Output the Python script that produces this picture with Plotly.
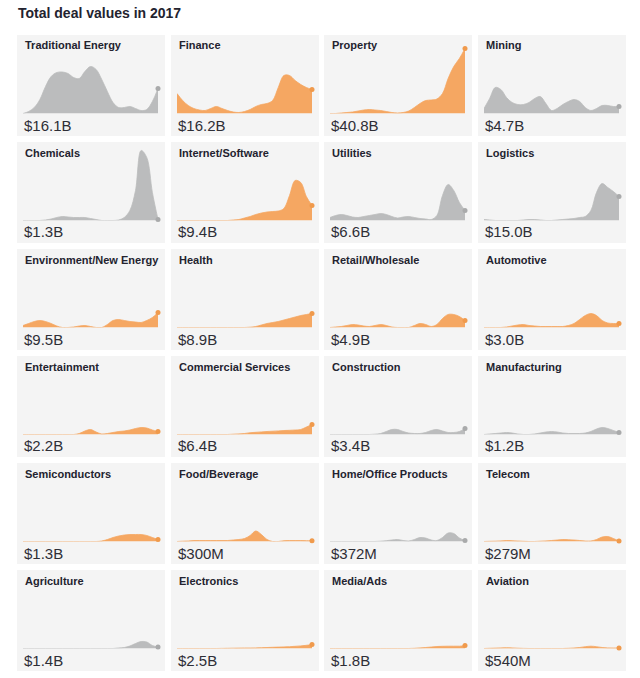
import plotly.graph_objects as go

# ---------------- data ----------------
title_text = "Total deal values in 2017"

categories = [
    "Traditional Energy", "Finance", "Property", "Mining",
    "Chemicals", "Internet/Software", "Utilities", "Logistics",
    "Environment/New Energy", "Health", "Retail/Wholesale", "Automotive",
    "Entertainment", "Commercial Services", "Construction", "Manufacturing",
    "Semiconductors", "Food/Beverage", "Home/Office Products", "Telecom",
    "Agriculture", "Electronics", "Media/Ads", "Aviation",
]

totals = [
    "$16.1B", "$16.2B", "$40.8B", "$4.7B",
    "$1.3B", "$9.4B", "$6.6B", "$15.0B",
    "$9.5B", "$8.9B", "$4.9B", "$3.0B",
    "$2.2B", "$6.4B", "$3.4B", "$1.2B",
    "$1.3B", "$300M", "$372M", "$279M",
    "$1.4B", "$2.5B", "$1.8B", "$540M",
]

highlight = [
    False, True, True, False,
    False, True, False, False,
    True, True, True, True,
    True, True, False, False,
    True, True, False, True,
    False, True, True, True,
]

periods = list(range(25))

traditional_energy = [0, 2, 6, 14, 27, 37, 41, 41.5, 40, 36, 35, 42, 47, 44, 34, 22, 11, 6, 6, 7, 5, 3, 4, 12, 25]
finance = [20, 13, 8, 5, 3.5, 3, 5, 7, 5, 3, 1.5, 1, 2, 4, 7, 9, 10, 13, 26, 38, 38, 33, 29, 26, 24]
property_ = [0, 0, 0.5, 1, 1.5, 2.5, 3.5, 4, 3.5, 3, 2, 1, 0.5, 1, 2.5, 6, 10, 13, 13.5, 14.5, 20, 35, 47, 55, 65]
mining = [5, 15, 26, 24, 16, 11, 9, 9, 11, 15, 17, 10, 3, 5, 9, 12, 14, 12, 6, 3, 5, 8, 8, 7, 7]
chemicals = [0, 0, 0, 0, 0.5, 1.5, 3, 4, 3.5, 3, 3, 3, 2, 1, 0, 0, 0, 0.5, 3, 10, 30, 70, 63, 28, 1]
internet_software = [0, 0, 0, 0, 0, 0, 0, 0, 0, 0, 0.5, 1, 2.5, 4, 6, 7.5, 8.5, 9, 9.5, 12, 25, 40, 38, 24, 15]
utilities = [3, 5, 6, 5, 3.5, 3, 4, 5, 6, 7, 6, 4, 2.5, 3.5, 4, 3, 2, 1.5, 1, 5, 25, 36, 30, 18, 10]
logistics = [1, 0.5, 0, 0, 0, 0, 0, 0.5, 1, 1, 0.5, 0, 0, 0.5, 1, 1.5, 2, 3, 4, 10, 28, 37, 33, 29, 24]
environment_new_energy = [2, 4, 6, 7, 6, 4, 1.5, 0, 0, 0.5, 1.5, 2, 1, 0, 0, 3, 7, 8, 7, 6, 5.5, 5, 7, 10, 15]
health = [0, 0, 0, 0, 0, 0, 0, 0, 0, 0, 0, 0, 0, 0.3, 1, 2.5, 4, 5, 6, 7.5, 9, 10.5, 12, 13, 14]
retail_wholesale = [0, 0.5, 1, 2, 3, 2.5, 1.5, 1, 2, 3, 2, 0.5, 0, 0, 0, 2, 4, 3, 1, 3, 9, 13, 13, 11, 7]
automotive = [0, 0, 0, 0, 0.5, 1.5, 2.5, 3, 2, 1.5, 1, 1, 1, 1, 1, 2, 4, 8, 12, 14, 12, 7, 4.5, 4, 4]
entertainment = [0, 0, 0, 0, 0, 0, 0, 0, 0, 0, 1, 3.5, 5, 2.5, 0.5, 1, 2, 3, 3.5, 4.5, 6, 7, 6.5, 4.5, 3]
commercial_services = [0, 0, 0, 0, 0, 0, 0, 0, 0, 0, 0.3, 0.6, 1, 1.8, 2.2, 2.6, 3, 3.3, 3.6, 4, 4.2, 4.5, 5, 7.5, 10]
construction = [0, 0, 0, 0, 0, 0, 0, 0, 0.3, 1, 3, 5, 5, 3, 1.5, 1, 1, 2, 4, 5, 3.5, 2, 2, 3, 6]
manufacturing = [0, 0.5, 1, 1.5, 2, 1.5, 0.5, 0, 0, 0.5, 1.5, 2.5, 3, 2.5, 1.5, 1, 1, 1, 1.5, 3, 5.5, 7, 6, 4, 2]
semiconductors = [0, 0, 0, 0, 0, 0, 0, 0, 0, 0, 0, 0, 0, 0, 0.5, 2, 4, 5.5, 6.5, 7, 7, 7, 6, 4, 2]
food_beverage = [0, 0.3, 0.5, 1, 1, 1, 1, 1, 1, 1, 1.5, 2, 3, 6, 10.5, 7, 2, 0, 0, 0.8, 1, 1, 1, 0.8, 0.8]
home_office_products = [0, 0, 0, 0, 0, 0, 0, 0, 0, 0.3, 0.8, 1.5, 2, 1, 0.5, 2, 4, 3.5, 1.5, 1, 4, 8.5, 8, 3.5, 1]
telecom = [0, 0.2, 0.3, 0.6, 1, 0.8, 0.5, 0.2, 0, 0, 0.3, 0.6, 1, 1.5, 2, 1.8, 1.5, 1, 0.5, 0.5, 2, 4.5, 5, 3, 0.5]
agriculture = [0, 0, 0, 0, 0, 0, 0, 0, 0, 0, 0, 0, 0, 0, 0, 0, 0, 0.5, 1, 2.5, 5, 7, 6.5, 3, 1.5]
electronics = [0, 0, 0, 0, 0, 0, 0, 0, 0.1, 0.2, 0.3, 0.4, 0.5, 0.5, 0.6, 0.8, 1, 1.2, 1.4, 1.6, 1.8, 2.2, 2.6, 3.2, 4]
media_ads = [0, 0, 0, 0, 0, 0, 0, 0, 0, 0, 0, 0, 0, 0, 0, 0.2, 0.6, 1, 1.5, 2, 2.2, 2.3, 2.3, 2.3, 3]
aviation = [0, 0.2, 0.4, 0.6, 0.8, 0.6, 0.3, 0.1, 0, 0, 0, 0, 0, 0, 0, 0.2, 0.5, 1, 1.8, 2.3, 1.8, 1, 0.6, 0.5, 0.6]

series = [
    traditional_energy, finance, property_, mining,
    chemicals, internet_software, utilities, logistics,
    environment_new_energy, health, retail_wholesale, automotive,
    entertainment, commercial_services, construction, manufacturing,
    semiconductors, food_beverage, home_office_products, telecom,
    agriculture, electronics, media_ads, aviation,
]

# ---------------- style / layout ----------------
W, H = 640, 678
ORANGE = "#f5a762"
ORANGE_DOT = "#f09a4c"
GRAY = "#bbbcbd"
GRAY_DOT = "#a9aaab"
PANEL_BG = "#f4f4f4"
TEXT_DARK = "#23232f"
FONT = "Liberation Sans, Arial, sans-serif"

col_left = [17, 171, 324, 478]
row_top = [35, 142, 249, 356, 463, 570]
panel_w, panel_h = 148, 101
plot_l, plot_r = 6, 141
plot_h = 78.5


def px(v):
    return v / W


def py(v):
    return 1 - v / H


fig = go.Figure()
shapes = []
annotations = []
layout_axes = {}

for k, (name, total, hl, vals) in enumerate(zip(categories, totals, highlight, series)):
    r, c = divmod(k, 4)
    left, top = col_left[c], row_top[r]
    idx = k + 1
    xa = "x" if idx == 1 else f"x{idx}"
    ya = "y" if idx == 1 else f"y{idx}"
    xkey = "xaxis" if idx == 1 else f"xaxis{idx}"
    ykey = "yaxis" if idx == 1 else f"yaxis{idx}"

    layout_axes[xkey] = dict(
        domain=[px(left + plot_l), px(left + plot_r)],
        range=[0, 24], visible=False, fixedrange=True, anchor=ya,
    )
    layout_axes[ykey] = dict(
        domain=[py(top + plot_h), py(top)],
        range=[0, plot_h], visible=False, fixedrange=True, anchor=xa,
    )

    fill_c = ORANGE if hl else GRAY
    dot_c = ORANGE_DOT if hl else GRAY_DOT

    fig.add_trace(go.Scatter(
        x=periods, y=vals, xaxis=xa, yaxis=ya,
        mode="lines", fill="tozeroy", fillcolor=fill_c,
        line=dict(color=fill_c, width=0.8, shape="spline", smoothing=1.0),
        hoverinfo="skip", showlegend=False,
    ))
    fig.add_trace(go.Scatter(
        x=[periods[-1]], y=[vals[-1]], xaxis=xa, yaxis=ya,
        mode="markers", marker=dict(color=dot_c, size=5),
        cliponaxis=False, hoverinfo="skip", showlegend=False,
    ))

    shapes.append(dict(
        type="rect", xref="paper", yref="paper", layer="below",
        x0=px(left), x1=px(left + panel_w),
        y0=py(top + panel_h), y1=py(top),
        fillcolor=PANEL_BG, line=dict(width=0),
    ))
    annotations.append(dict(
        text=f"<b>{name}</b>", xref="paper", yref="paper",
        x=px(left + 6), y=py(top + 10.5),
        xanchor="left", yanchor="middle", showarrow=False,
        font=dict(family=FONT, size=11, color=TEXT_DARK),
    ))
    annotations.append(dict(
        text=total, xref="paper", yref="paper",
        x=px(left + 5), y=py(top + 90),
        xanchor="left", yanchor="middle", showarrow=False,
        font=dict(family=FONT, size=15, color="#2e2e36"),
    ))

annotations.append(dict(
    text=f"<b>{title_text}</b>", xref="paper", yref="paper",
    x=px(16), y=py(12.5), xanchor="left", yanchor="middle", showarrow=False,
    font=dict(family=FONT, size=14, color=TEXT_DARK),
))

fig.update_layout(
    width=W, height=H,
    margin=dict(l=0, r=0, t=0, b=0),
    paper_bgcolor="white", plot_bgcolor="rgba(0,0,0,0)",
    shapes=shapes, annotations=annotations,
    **layout_axes,
)

fig.write_html(
    "out.html",
    config={"displayModeBar": False},
    post_script="document.body.style.margin='0';document.body.style.overflow='hidden';",
)
